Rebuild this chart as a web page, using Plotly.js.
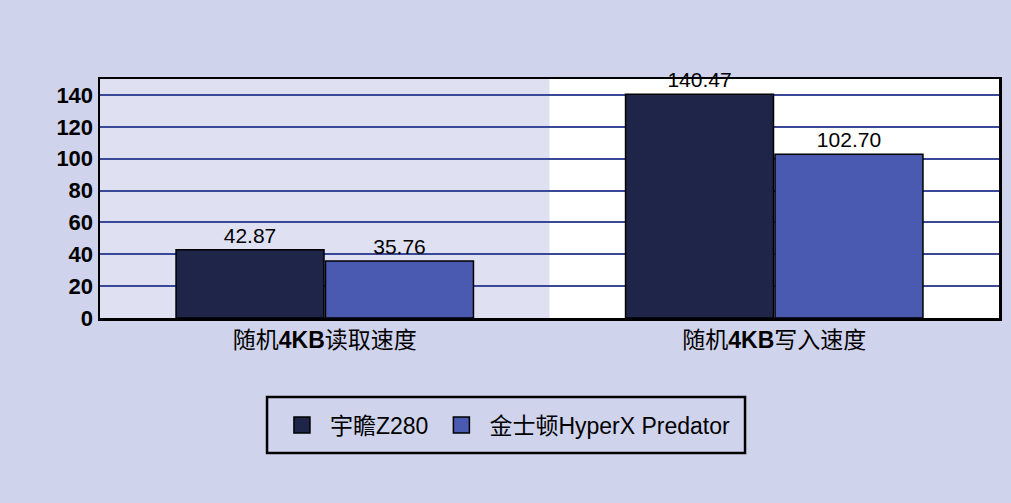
<!DOCTYPE html>
<html>
<head>
<meta charset="utf-8">
<script src="https://cdn.plot.ly/plotly-3.0.1.min.js"></script>
<style>
html,body{margin:0;padding:0;background:#d0d3ec;}
#chart{width:1011px;height:503px;}
</style>
</head>
<body>
<div id="chart"></div>
<script>
const categories = ['随机<b>4KB</b>读取速度', '随机<b>4KB</b>写入速度'];
const seriesNames = ['宇瞻Z280', '金士顿HyperX Predator'];
const apacerValues = [42.87, 140.47];
const kingstonValues = [35.76, 102.70];
const yTicks = [0, 20, 40, 60, 80, 100, 120, 140];
const seriesColors = ['#1f2549', '#4a5ab0'];

const fontFam = 'Arial, "Liberation Sans", "Noto Sans CJK SC", sans-serif';

const barTraces = [apacerValues, kingstonValues].map((vals, i) => ({
  type: 'bar',
  name: seriesNames[i],
  x: categories,
  y: vals,
  text: vals.map(v => v.toFixed(2)),
  textposition: 'outside',
  cliponaxis: false,
  textfont: {family: fontFam, size: 21, color: '#000'},
  marker: {color: seriesColors[i], line: {color: '#000', width: 1.5}},
  showlegend: false,
  hoverinfo: 'none'
}));

// legend-only entries (larger square swatches like the reference)
const legendTraces = seriesNames.map((name, i) => ({
  type: 'scatter',
  mode: 'markers',
  name: name,
  x: [null],
  y: [null],
  marker: {symbol: 'square', size: 16, color: seriesColors[i], line: {color: '#000', width: 1.5}},
  hoverinfo: 'none'
}));

const layout = {
  width: 1011, height: 503,
  paper_bgcolor: '#d0d3ec',
  plot_bgcolor: '#ffffff',
  margin: {l: 100, r: 12, t: 79, b: 185},
  barmode: 'group',
  bargap: 0.335,
  bargroupgap: 0.01,
  font: {family: fontFam, size: 22, color: '#000'},
  showlegend: true,
  legend: {
    orientation: 'h',
    x: 0.1935, xanchor: 'left',
    y: -0.4477, yanchor: 'middle',
    bgcolor: 'rgba(0,0,0,0)',
    borderwidth: 0,
    itemwidth: 46,
    font: {family: fontFam, size: 23, color: '#000'},
    itemclick: false
  },
  xaxis: {
    type: 'category',
    showline: true, linecolor: '#000', linewidth: 2.5, mirror: true,
    ticks: '', showgrid: false,
    tickfont: {family: fontFam, size: 23, color: '#000'},
    fixedrange: true
  },
  yaxis: {
    range: [0, 150],
    tickvals: yTicks,
    ticktext: yTicks.map(String),
    showline: true, linecolor: '#000', linewidth: 2.5, mirror: true,
    showgrid: true, gridcolor: '#3a4898', gridwidth: 2,
    zeroline: false,
    ticks: '',
    tickfont: {family: fontFam, size: 22, color: '#000', weight: 'bold'},
    fixedrange: true
  },
  shapes: [{
    type: 'rect', xref: 'x', yref: 'paper',
    x0: -0.5, x1: 0.5, y0: 0, y1: 1,
    fillcolor: '#dfe1f2', line: {width: 0}, layer: 'below'
  }, {
    type: 'rect', xref: 'paper', yref: 'paper',
    x0: 0.1858, x1: 0.7175, y0: -0.5649, y1: -0.3305,
    fillcolor: 'rgba(0,0,0,0)', line: {color: '#000', width: 2.5}
  }]
};

Plotly.newPlot('chart', barTraces.concat(legendTraces), layout, {displayModeBar: false, staticPlot: true});
</script>
</body>
</html>
